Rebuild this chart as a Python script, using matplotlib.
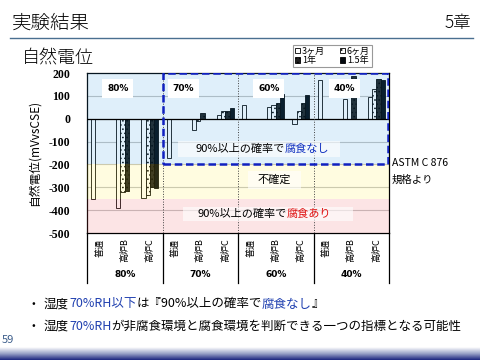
import numpy as np
import matplotlib.pyplot as plt
from matplotlib.patches import Rectangle
from matplotlib.colors import LinearSegmentedColormap

plt.rcParams['font.family'] = ['Noto Sans CJK JP', 'DejaVu Sans']
plt.rcParams['hatch.linewidth'] = 0.6

nan = np.nan
# categories (cement type) repeated for each humidity group
categories = ['普通', '高炉B', '高炉C'] * 4
groups = ['80%', '70%', '60%', '40%']
series = ['3ヶ月', '6ヶ月', '1年', '1.5年']
m3 = [-350, -392, -349, -174, -49, 15, 59, 52, -21, 168, 85, 93]
m6 = [nan, -322, -332, nan, -10, 34, nan, 59, 34, nan, nan, 132]
y1 = [nan, -318, -300, nan, 27, 34, nan, 68, 68, nan, 187, 173]
y15 = [nan, nan, -305, nan, nan, 49, nan, 107, 103, nan, nan, 168]
values = [m3, m6, y1, y15]
yticks = [200, 100, 0, -100, -200, -300, -400, -500]

fig = plt.figure(figsize=(4.8, 3.6), dpi=100)
bg = fig.add_axes([0, 0, 1, 1])
bg.set_xlim(0, 480)
bg.set_ylim(360, 0)
bg.axis('off')

# slide header
bg.text(12, 23, '実験結果', fontsize=14, va='center', ha='left', fontweight='light')
bg.text(471, 23, '5章', fontsize=12.5, va='center', ha='right', fontweight='light')
bg.plot([10, 473], [38, 38], color='#4a6f90', lw=1)
bg.text(22, 59, '自然電位', fontsize=13, va='center', ha='left', fontweight='light')

ax = fig.add_axes([87 / 480, 1 - 233 / 360, 302 / 480, 160 / 360])
x = np.arange(len(categories))
w = 0.17
styles = [
    dict(facecolor='white', edgecolor='black', hatch=None),
    dict(facecolor='white', edgecolor='black', hatch='....'),
    dict(facecolor='#202020', edgecolor='black', hatch='....'),
    dict(facecolor='#050a10', edgecolor='black', hatch=None),
]
handles = []
for i, (vals, st) in enumerate(zip(values, styles)):
    b = ax.bar(x + (i - 1.5) * w, vals, w, lw=0.6, zorder=2, label=series[i], **st)
    handles.append(b)

# ASTM bands drawn translucent over the bars
ax.axhspan(-200, 200, color=(0.17, 0.6, 0.87), alpha=0.15, lw=0, zorder=3)
ax.axhspan(-350, -200, color=(1, 0.93, 0.2), alpha=0.15, lw=0, zorder=3)
ax.axhspan(-500, -350, color=(0.93, 0.3, 0.33), alpha=0.15, lw=0, zorder=3)
for t in yticks[1:-1]:
    ax.axhline(t, color='#c4c4c4', lw=0.8, zorder=1.5)
ax.axhline(0, color='black', lw=0.9, zorder=4)

ax.set_xlim(-0.5, len(categories) - 0.5)
ax.set_ylim(-500, 200)
ax.set_yticks(yticks)
ax.set_yticklabels([str(t) for t in yticks], family='Liberation Serif',
                   fontsize=8.5, fontweight='bold')
ax.tick_params(axis='y', length=0, pad=12)
ax.set_xticks(x)
ax.set_xticklabels(categories, rotation=90, fontsize=6.5)
ax.tick_params(axis='x', length=0, pad=4)
for s in ax.spines.values():
    s.set_linewidth(0.9)
ax.set_ylabel('自然電位(mVvsCSE)', fontsize=8.5, labelpad=6)

# group separators and labels
for k, g in enumerate(groups):
    if k > 0:
        ax.axvline(3 * k - 0.5, color='#404040', lw=0.7, ls=':', zorder=4)
    ax.plot([3 * k - 0.5, 3 * k - 0.5], [0, -0.31], color='black', lw=0.9,
            transform=ax.get_xaxis_transform(), clip_on=False)
    ax.text(3 * k + 1, -0.26, g, transform=ax.get_xaxis_transform(), ha='center',
            va='center', fontsize=6.5, fontweight='bold', family='DejaVu Sans')
    ax.text(3 * k + 0.3 if k != 1 else 3 * k - 0.1, 132, g, fontsize=6.5,
            fontweight='bold', family='DejaVu Sans', ha='left', va='center', zorder=6,
            bbox=dict(facecolor='white', edgecolor='none', pad=3.5))
ax.plot([11.5, 11.5], [0, -0.31], color='black', lw=0.9,
        transform=ax.get_xaxis_transform(), clip_on=False)

# dashed box for 70% RH and below
ax.add_patch(Rectangle((2.5, -200), 8.98, 398, fill=False, edgecolor='#1020c0',
                       lw=1.8, ls=(0, (3, 1.5)), zorder=7))

# band captions
ax.add_patch(Rectangle((3.1, -168), 6.45, 70, facecolor='white', alpha=0.6,
                       lw=0, zorder=5))
ax.add_patch(Rectangle((5.9, -308), 2.1, 78, facecolor='white', alpha=0.6,
                       lw=0, zorder=5))
ax.add_patch(Rectangle((3.3, -448), 6.75, 61, facecolor='white', alpha=0.6,
                       lw=0, zorder=5))
ax.text(7.35, -133, '90%以上の確率で', fontsize=8, ha='right', va='center', zorder=6)
ax.text(7.35, -133, '腐食なし', fontsize=8, ha='left', va='center', color='#1030c0', zorder=6)
ax.text(6.95, -268, '不確定', fontsize=8, ha='center', va='center', zorder=6)
ax.text(7.45, -418, '90%以上の確率で', fontsize=8, ha='right', va='center', zorder=6)
ax.text(7.45, -418, '腐食あり', fontsize=8, ha='left', va='center', color='#e01010', zorder=6)

bg.text(392, 163, 'ASTM C 876', fontsize=7.5, va='center', ha='left')
bg.text(392, 180, '規格より', fontsize=7.5, va='center', ha='left')

# legend (row-wise order)
order = [0, 2, 1, 3]
leg = fig.legend([handles[i] for i in order], [series[i] for i in order], ncol=2,
                 loc='upper left', bbox_to_anchor=(293 / 480, 1 - 45 / 360),
                 fontsize=6.5, frameon=True, fancybox=False, edgecolor='#808080',
                 handlelength=0.6, handleheight=0.6, borderpad=0.2,
                 labelspacing=0.05, columnspacing=1.6, handletextpad=0.2,
                 borderaxespad=0)
leg.get_frame().set_linewidth(0.8)

# bullets
blue = '#2040b0'
def line(y, parts):
    bg.text(31, y, '•', fontsize=8, va='center', ha='left')
    t = bg.text(44, y, parts[0][0], fontsize=9, color=parts[0][1], va='center', ha='left')
    for s, c in parts[1:]:
        t = bg.annotate(s, xy=(1, 0), xycoords=t, va='bottom', ha='left',
                        fontsize=9, color=c)

line(304, [('湿度', 'black'), ('70%RH以下', blue), ('は『90%以上の確率で', 'black'),
           ('腐食なし', blue), ('』', 'black')])
line(326, [('湿度', 'black'), ('70%RH', blue),
           ('が非腐食環境と腐食環境を判断できる一つの指標となる可能性', 'black')])
bg.text(2, 340, '59', fontsize=8, color='#3b5c8a', va='center', ha='left')

# bottom gradient bar
grad = np.linspace(0, 1, 50).reshape(-1, 1)
cmap = LinearSegmentedColormap.from_list('g', ['#ffffff', '#9aa3c8', '#1c2680'])
bg.imshow(grad, extent=[0, 480, 360, 347], cmap=cmap, aspect='auto', zorder=0)
bg.set_xlim(0, 480)
bg.set_ylim(360, 0)

fig.savefig('out.png', dpi=100)
